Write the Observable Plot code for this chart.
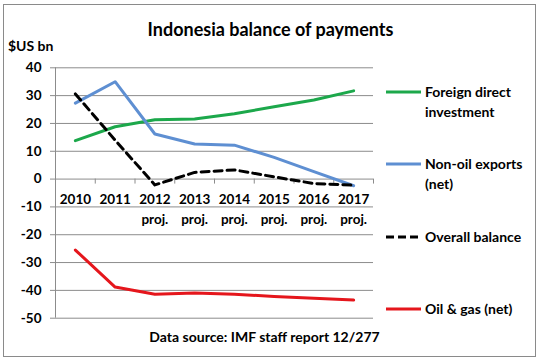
<!DOCTYPE html>
<html><head><meta charset="utf-8">
<script src="https://cdn.jsdelivr.net/npm/d3@7"></script>
<script src="https://cdn.jsdelivr.net/npm/@observablehq/plot@0.6"></script>
<style>
body{margin:0;background:#fff;}
#wrap{position:relative;width:541px;height:361px;font-family:Lato, sans-serif;font-weight:bold;color:#000;overflow:hidden;}
#wrap svg{position:absolute;left:0;top:0;}
.t{position:absolute;white-space:nowrap;line-height:1;transform:translateY(-50%);}
.border{position:absolute;left:3px;top:4px;width:531px;height:351px;border:1px solid #8a8a8a;pointer-events:none;}
</style></head><body>
<div id="wrap"><div class="border"></div></div>
<script>
// ---- data ----
const years = [2010, 2011, 2012, 2013, 2014, 2015, 2016, 2017];
const projYears = [2012, 2013, 2014, 2015, 2016, 2017];
const fdi     = [13.8, 18.8, 21.3, 21.6, 23.5, 26.0, 28.4, 31.7];
const nonOil  = [27.3, 35.0, 16.2, 12.6, 12.2, 7.8, 2.7, -2.4];
const overall = [30.6, 14.0, -2.1, 2.4, 3.3, 0.8, -1.6, -2.2];
const oilGas  = [-25.5, -38.8, -41.4, -40.9, -41.4, -42.2, -42.8, -43.5];
const yTicks  = [40, 30, 20, 10, 0, -10, -20, -30, -40, -50];
const seriesNames = ["Foreign direct investment", "Non-oil exports (net)", "Overall balance", "Oil & gas (net)"];
const legendLines = [["Foreign direct", "investment"], ["Non-oil exports", "(net)"], ["Overall balance"], ["Oil & gas (net)"]];
const title = "Indonesia balance of payments";
const unitLabel = "$US bn";
const caption = "Data source: IMF staff report 12/277";

// ---- styles ----
const colors = ["#1ca84b", "#5e8fd2", "#000000", "#e5161c"];
const dashes = [null, null, "8,5", null];
const W = 541, H = 361;
const mL = 55, mR = 168, mT = 67.3, mB = 43.3;
const gridColor = "#8c8c8c";
const pxPerUnit = (H - mT - mB) / 90;
const tickLen = 5 / pxPerUnit;

const valueArrays = [fdi, nonOil, overall, oilGas];
const rows = valueArrays.flatMap((vals, s) => years.map((yr, i) => ({year: yr, value: vals[i], s})));
const boundaries = d3.range(years.length + 1).map(i => years[0] - 0.5 + i);

const lineMarks = valueArrays.map((vals, s) =>
  Plot.line(rows.filter(r => r.s === s), {
    x: "year", y: "value", stroke: colors[s], strokeWidth: 3,
    strokeDasharray: dashes[s] || undefined, curve: "linear"
  })
);

const chart = Plot.plot({
  width: W, height: H,
  marginLeft: mL, marginRight: mR, marginTop: mT, marginBottom: mB,
  style: {fontFamily: "Lato, sans-serif", fontWeight: "bold", fontSize: "13.5px", color: "#000", background: "transparent", overflow: "visible"},
  x: {domain: [boundaries[0], boundaries[boundaries.length - 1]], axis: null},
  y: {domain: [-50, 40], axis: null},
  marks: [
    Plot.ruleY(yTicks, {x1: boundaries[0], x2: boundaries[boundaries.length - 1], stroke: gridColor, strokeWidth: 1}),
    Plot.ruleX([boundaries[0]], {y1: -50, y2: 40, stroke: gridColor}),
    Plot.axisY({ticks: yTicks, tickSize: 5, tickPadding: 9, stroke: gridColor, strokeOpacity: 1, tickFormat: d => String(d), label: null, fill: "#000"}),
    Plot.ruleX(boundaries.slice(1), {y1: 0, y2: -tickLen, stroke: gridColor}),
    Plot.text(years, {x: d => d, y: () => 0, dy: 21, text: d => String(d), fill: "#000"}),
    Plot.text(projYears, {x: d => d, y: () => 0, dy: 41, text: () => "proj.", fill: "#000"}),
    ...lineMarks
  ]
});
const wrap = document.getElementById("wrap");
wrap.insertBefore(chart, wrap.firstChild);

function addText(txt, left, top, size, opts = {}) {
  const d = document.createElement("div");
  d.className = "t";
  d.textContent = txt;
  d.style.left = left + "px";
  d.style.top = top + "px";
  d.style.fontSize = size + "px";
  if (opts.center) { d.style.transform = "translate(-50%,-50%)"; }
  wrap.appendChild(d);
  return d;
}
addText(title, 270.5, 28.5, 18, {center: true});
addText(unitLabel, 8, 46, 14);
addText(caption, 264.5, 337, 14, {center: true});

const legendY = [92.3, 164.3, 236.7, 309];
legendLines.forEach((lines, s) => {
  const y = legendY[s];
  const svgNS = "http://www.w3.org/2000/svg";
  const sv = document.createElementNS(svgNS, "svg");
  sv.setAttribute("width", 40); sv.setAttribute("height", 10);
  sv.style.position = "absolute"; sv.style.left = "384px"; sv.style.top = (y - 5) + "px";
  const ln = document.createElementNS(svgNS, "line");
  ln.setAttribute("x1", 2); ln.setAttribute("x2", 37); ln.setAttribute("y1", 5); ln.setAttribute("y2", 5);
  ln.setAttribute("stroke", colors[s]); ln.setAttribute("stroke-width", 3);
  if (dashes[s]) ln.setAttribute("stroke-dasharray", "8,4");
  sv.appendChild(ln);
  wrap.appendChild(sv);
  lines.forEach((l, j) => addText(l, 425, y + j * 20, 14));
});
</script>
</body></html>
